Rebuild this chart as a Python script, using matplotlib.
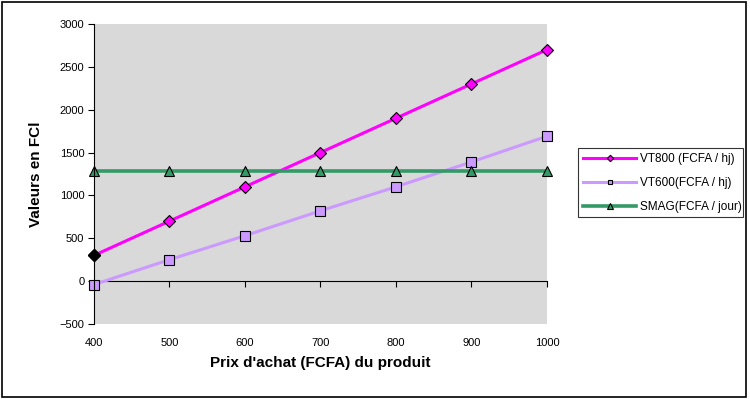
import numpy as np
import matplotlib.pyplot as plt
from matplotlib.patches import Rectangle

plt.rcParams['font.family'] = ['Liberation Sans', 'DejaVu Sans']

# Values
prix = [400, 500, 600, 700, 800, 900, 1000]
vt800 = [300, 700, 1100, 1500, 1900, 2300, 2700]
vt600 = [-40, 250, 530, 820, 1100, 1390, 1690]
smag = [1280, 1280, 1280, 1280, 1280, 1280, 1280]
yticks = [-500, 0, 500, 1000, 1500, 2000, 2500, 3000]

fig = plt.figure(figsize=(7.5, 3.99), dpi=100)
ax = fig.add_axes([0.1253, 0.188, 0.604, 0.752])
ax.set_facecolor('#D9D9D9')

ax.plot(prix, vt800, '-D', color='#FF00FF', lw=2.2, ms=6.5, clip_on=False,
        mfc='#FF00FF', mec='black', mew=0.8, label='VT800 (FCFA / hj)')
ax.plot(prix[0], vt800[0], 'D', color='black', ms=6.5, zorder=5, clip_on=False)
ax.plot(prix, vt600, '-s', color='#CC99FF', lw=2.2, ms=7, clip_on=False,
        mfc='#CC99FF', mec='black', mew=0.8, label='VT600(FCFA / hj)')
ax.plot(prix, smag, '-^', color='#339966', lw=2.6, ms=7.5, clip_on=False,
        mfc='#339966', mec='black', mew=0.8, label='SMAG(FCFA / jour)')

ax.set_xlim(400, 1000)
ax.set_ylim(-500, 3000)
ax.set_yticks(yticks)
ax.set_xticks(prix)

for s in ['top', 'right', 'bottom']:
    ax.spines[s].set_visible(False)
ax.spines['left'].set_color('black')
ax.tick_params(axis='y', direction='out', length=4, labelsize=8, pad=3)
ax.tick_params(axis='x', length=0, labelsize=8, pad=10)

# axis line at y = 0 with its ticks
zero_pos = (0 - (-500)) / 3500
sec = ax.secondary_xaxis(zero_pos)
sec.set_xticks(prix)
sec.tick_params(direction='out', length=4, labelbottom=False, labeltop=False)
sec.spines['bottom'].set_color('black')

ax.set_xlabel("Prix d'achat (FCFA) du produit", fontsize=11, fontweight='bold', labelpad=6)
ax.set_ylabel('Valeurs en FCl', fontsize=11, fontweight='bold', labelpad=12)

leg = fig.legend(loc='center left', bbox_to_anchor=(0.771, 0.451, 0.22, 0.181),
                 mode='expand', fontsize=8.5, frameon=True, fancybox=False,
                 handlelength=4.5, markerscale=0.5, borderaxespad=0, labelspacing=1.0,
                 handletextpad=0.3)
leg.get_frame().set_edgecolor('black')
leg.get_frame().set_linewidth(0.8)

fig.patches.append(Rectangle((0.002, 0.005), 0.993, 0.99, transform=fig.transFigure,
                             fill=False, edgecolor='black', lw=1.2))

fig.savefig('out.png', dpi=100)
